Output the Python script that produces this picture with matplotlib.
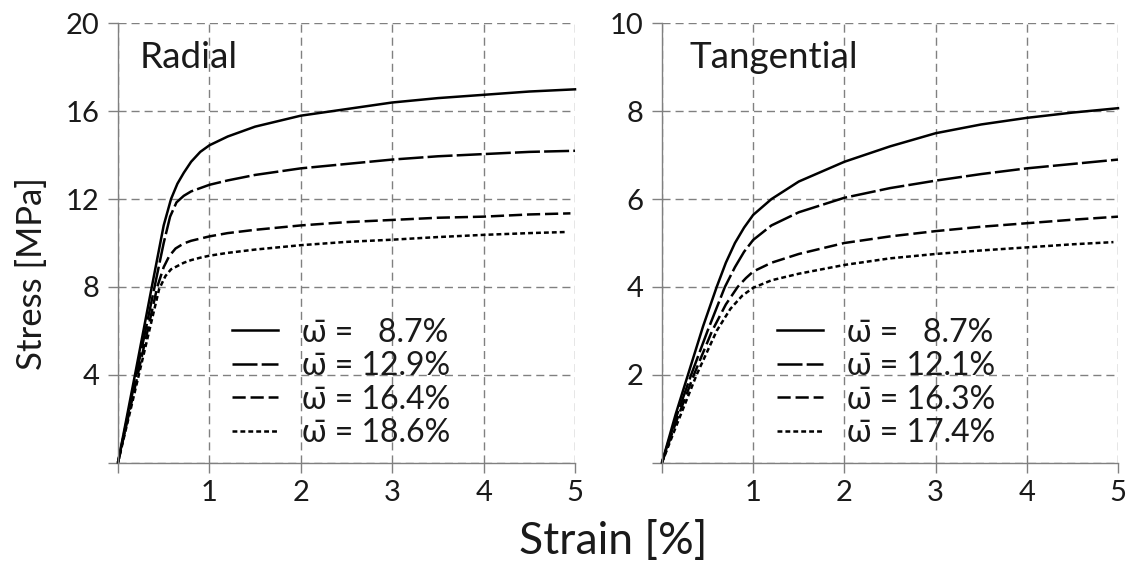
import matplotlib
matplotlib.use("Agg")
import matplotlib.pyplot as plt

plt.rcParams['font.family'] = ['Lato', 'Open Sans', 'DejaVu Sans']
plt.rcParams['lines.scale_dashes'] = False

# ---------------- data ----------------
rad_labels = ["ω̄ =   8.7%", "ω̄ = 12.9%", "ω̄ = 16.4%", "ω̄ = 18.6%"]
tan_labels = ["ω̄ =   8.7%", "ω̄ = 12.1%", "ω̄ = 16.3%", "ω̄ = 17.4%"]

rad1_x = [0, 0.2, 0.37, 0.5, 0.58, 0.65, 0.72, 0.8, 0.9, 1.0, 1.2, 1.5, 2.0, 2.5, 3.0, 3.5, 4.0, 4.5, 5.0]
rad1_y = [0, 4.3, 8.0, 10.8, 12.0, 12.7, 13.2, 13.7, 14.15, 14.45, 14.85, 15.3, 15.8, 16.1, 16.4, 16.6, 16.75, 16.9, 17.0]
rad2_x = [0, 0.2, 0.4, 0.5, 0.57, 0.64, 0.72, 0.8, 0.9, 1.0, 1.2, 1.5, 2.0, 2.5, 3.0, 3.5, 4.0, 4.5, 5.0]
rad2_y = [0, 4.0, 8.0, 10.0, 11.2, 11.85, 12.15, 12.35, 12.5, 12.65, 12.85, 13.1, 13.4, 13.6, 13.8, 13.95, 14.05, 14.15, 14.2]
rad3_x = [0, 0.2, 0.43, 0.5, 0.56, 0.63, 0.72, 0.8, 0.9, 1.0, 1.2, 1.5, 2.0, 2.5, 3.0, 3.5, 4.0, 4.5, 4.95]
rad3_y = [0, 3.7, 8.0, 8.9, 9.4, 9.75, 9.98, 10.1, 10.2, 10.3, 10.45, 10.6, 10.8, 10.95, 11.05, 11.15, 11.2, 11.3, 11.35]
rad4_x = [0, 0.2, 0.45, 0.52, 0.58, 0.65, 0.72, 0.8, 0.9, 1.0, 1.2, 1.5, 2.0, 2.5, 3.0, 3.5, 4.0, 4.5, 4.9]
rad4_y = [0, 3.5, 7.9, 8.5, 8.8, 8.95, 9.1, 9.22, 9.33, 9.42, 9.55, 9.7, 9.9, 10.05, 10.15, 10.27, 10.37, 10.45, 10.5]

tan1_x = [0, 0.15, 0.3, 0.45, 0.6, 0.7, 0.8, 0.9, 1.0, 1.2, 1.5, 2.0, 2.5, 3.0, 3.5, 4.0, 4.5, 5.0]
tan1_y = [0, 1.1, 2.1, 3.1, 4.0, 4.55, 5.0, 5.35, 5.64, 6.0, 6.4, 6.85, 7.2, 7.5, 7.7, 7.85, 7.97, 8.07]
tan2_x = [0, 0.15, 0.32, 0.5, 0.69, 0.8, 0.9, 1.0, 1.2, 1.5, 2.0, 2.5, 3.0, 3.5, 4.0, 4.5, 5.0]
tan2_y = [0, 1.0, 2.0, 3.0, 4.0, 4.45, 4.8, 5.07, 5.4, 5.7, 6.03, 6.25, 6.42, 6.57, 6.7, 6.8, 6.9]
tan3_x = [0, 0.15, 0.35, 0.55, 0.7, 0.83, 0.92, 1.0, 1.2, 1.5, 2.0, 2.5, 3.0, 3.5, 4.0, 4.5, 5.0]
tan3_y = [0, 0.9, 2.0, 3.0, 3.6, 4.0, 4.2, 4.35, 4.55, 4.75, 5.0, 5.15, 5.27, 5.37, 5.45, 5.53, 5.6]
tan4_x = [0, 0.15, 0.38, 0.6, 0.75, 0.88, 1.0, 1.2, 1.5, 2.0, 2.5, 3.0, 3.5, 4.0, 4.5, 4.95]
tan4_y = [0, 0.8, 2.0, 3.0, 3.5, 3.8, 3.98, 4.15, 4.3, 4.5, 4.65, 4.75, 4.83, 4.9, 4.97, 5.02]

x_ticks = [0, 1, 2, 3, 4, 5]
x_ticklabels = ["", "1", "2", "3", "4", "5"]
rad_yticks = [0, 4, 8, 12, 16, 20]
rad_yticklabels = ["", "4", "8", "12", "16", "20"]
tan_yticks = [0, 2, 4, 6, 8, 10]
tan_yticklabels = ["", "2", "4", "6", "8", "10"]

# ---------------- styles ----------------
styles = [
    dict(linestyle='-'),
    dict(linestyle=(0, (18, 3))),
    dict(linestyle=(0, (9.5, 3.5))),
    dict(linestyle=(0, (3.5, 2.2))),
]
gray = '#808080'
txt = '#1a1a1a'

fig = plt.figure(figsize=(11.4, 5.67), dpi=100)
ax1 = fig.add_axes([0.1035, 0.1843, 0.4009, 0.7743])
ax2 = fig.add_axes([0.5807, 0.1843, 0.4000, 0.7743])


def setup(ax, yticks, yticklabels, ymax, title, tx):
    ax.set_xlim(0, 5)
    ax.set_ylim(0, ymax)
    ax.set_xticks(x_ticks)
    ax.set_xticklabels(x_ticklabels)
    ax.set_yticks(yticks)
    ax.set_yticklabels(yticklabels)
    for s in ['top', 'right']:
        ax.spines[s].set_visible(False)
    for s in ['left', 'bottom']:
        ax.spines[s].set_color(gray)
        ax.spines[s].set_linewidth(1.0)
    ax.tick_params(direction='out', length=7.5, width=1.0, color=gray,
                   labelsize=21, labelcolor=txt)
    ax.tick_params(axis='x', pad=5)
    ax.tick_params(axis='y', pad=6)
    ax.grid(True, color=gray, linewidth=1.0, linestyle=(0, (5.8, 3.6)))
    ax.set_axisbelow(True)
    ax.text(tx, 0.899, title, transform=ax.transAxes, fontsize=26.5,
            color=txt, va='baseline', ha='left')


setup(ax1, rad_yticks, rad_yticklabels, 20, "Radial", 0.048)
setup(ax2, tan_yticks, tan_yticklabels, 10, "Tangential", 0.061)

rad_series = [(rad1_x, rad1_y), (rad2_x, rad2_y), (rad3_x, rad3_y), (rad4_x, rad4_y)]
tan_series = [(tan1_x, tan1_y), (tan2_x, tan2_y), (tan3_x, tan3_y), (tan4_x, tan4_y)]

h1 = []
for (xs, ys), st, lab in zip(rad_series, styles, rad_labels):
    ln, = ax1.plot(xs, ys, color='black', linewidth=1.8, label=lab, clip_on=False, **st)
    h1.append(ln)
h2 = []
for (xs, ys), st, lab in zip(tan_series, styles, tan_labels):
    ln, = ax2.plot(xs, ys, color='black', linewidth=1.8, label=lab, clip_on=False, **st)
    h2.append(ln)

leg_kw = dict(loc='upper left', frameon=False, fontsize=23, handlelength=1.44,
              handletextpad=0.75, labelspacing=0.11, borderpad=0, borderaxespad=0,
              labelcolor=txt)
ax1.legend(handles=h1, bbox_to_anchor=(0.249, 0.33), **leg_kw)
ax2.legend(handles=h2, bbox_to_anchor=(0.252, 0.33), **leg_kw)

fig.text(32 / 1140, 1 - 274 / 567, "Stress [MPa]", rotation=90, fontsize=25,
         color=txt, ha='center', va='center')
fig.text(613 / 1140, 1 - 542 / 567, "Strain [%]", fontsize=32,
         color=txt, ha='center', va='center')

fig.savefig("out.png", dpi=100, facecolor='white')
